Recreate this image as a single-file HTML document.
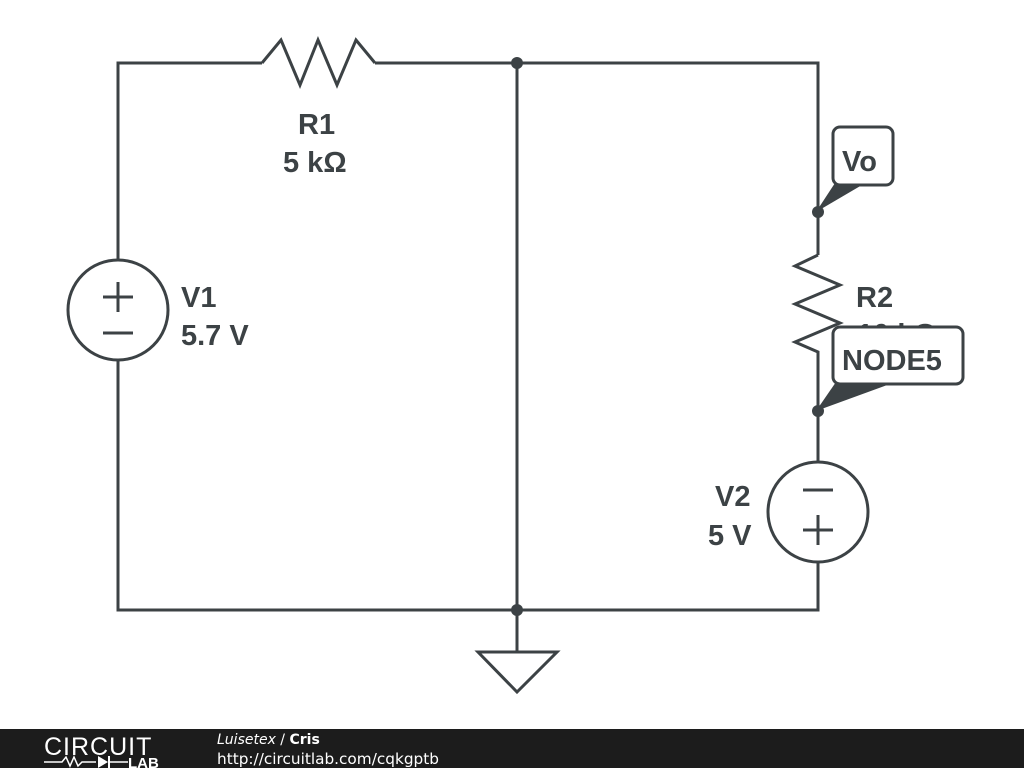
<!DOCTYPE html>
<html><head><style>body{margin:0;background:#fff}svg{display:block}</style></head><body>
<svg width="1024" height="768" viewBox="0 0 1024 768" xmlns="http://www.w3.org/2000/svg" font-family="DejaVu Sans, sans-serif">
<g stroke="#3c4245" stroke-width="3" fill="none" stroke-linejoin="miter">
<polyline points="262,63 118,63 118,260"/>
<polyline points="118,360 118,610 818,610 818,562"/>
<polyline points="375,63 818,63 818,255"/>
<polyline points="262,63 281,40 300,85 318,40 337,85 356,40 375,63"/>
<polyline points="818,255 795,266 840,285 795,304 840,323 795,342 818,352 818,462"/>
<line x1="517" y1="63" x2="517" y2="652"/>
<polygon points="478,652 557,652 517,692"/>
<circle cx="118" cy="310" r="50"/>
<circle cx="818" cy="512" r="50"/>
<line x1="103" y1="297" x2="133" y2="297"/><line x1="118" y1="282" x2="118" y2="312"/>
<line x1="103" y1="333" x2="133" y2="333"/>
<line x1="803" y1="490" x2="833" y2="490"/>
<line x1="803" y1="530" x2="833" y2="530"/><line x1="818" y1="515" x2="818" y2="545"/>
</g>
<g fill="#3c4245">
<circle cx="517" cy="63" r="6"/><circle cx="517" cy="610" r="6"/>
<circle cx="818" cy="212" r="6"/><circle cx="818" cy="411" r="6"/>
<polygon points="816,212 835,183 862,185"/>
<polygon points="816,411 836,382 890,384"/>
</g>
<g font-weight="bold" font-size="29" fill="#3c4245" font-family="Liberation Sans, sans-serif">
<text x="298" y="134">R1</text><text x="283" y="172">5 kΩ</text>
<text x="181" y="307">V1</text><text x="181" y="345">5.7 V</text>
<text x="856" y="307">R2</text><text x="857" y="344">10 kΩ</text>
<text x="715" y="506">V2</text><text x="708" y="545">5 V</text>
</g>
<rect x="833" y="127" width="60" height="58" rx="7" fill="#fff" stroke="#3c4245" stroke-width="3"/>
<text x="842" y="171" font-weight="bold" font-size="29" fill="#3c4245" font-family="Liberation Sans, sans-serif">Vo</text>
<rect x="833" y="327" width="130" height="57" rx="7" fill="#fff" stroke="#3c4245" stroke-width="3"/>
<text x="842" y="370" font-weight="bold" font-size="29" fill="#3c4245" font-family="Liberation Sans, sans-serif">NODE5</text>
<rect x="0" y="729" width="1024" height="39" fill="#1c1c1c"/>
<text x="44" y="755" font-size="25" fill="#fff" font-family="Liberation Sans, sans-serif" letter-spacing="1">CIRCUIT</text>
<polyline points="44,762 62,762 66,757 70,766 74,757 78,766 82,762 96,762" stroke="#fff" stroke-width="1.5" fill="none"/>
<polygon points="98,756 98,768 108,762" fill="#fff"/><line x1="109" y1="756" x2="109" y2="768" stroke="#fff" stroke-width="2"/>
<line x1="109" y1="762" x2="128" y2="762" stroke="#fff" stroke-width="1.5"/>
<text x="128" y="768" font-size="15" font-weight="bold" fill="#fff" font-family="Liberation Sans, sans-serif">LAB</text>
<text x="217" y="744" font-size="14" fill="#fff"><tspan font-style="italic">Luisetex</tspan> / <tspan font-weight="bold">Cris</tspan></text>
<text x="217" y="764" font-size="15.3" fill="#fff">http://circuitlab.com/cqkgptb</text>
</svg>
</body></html>
